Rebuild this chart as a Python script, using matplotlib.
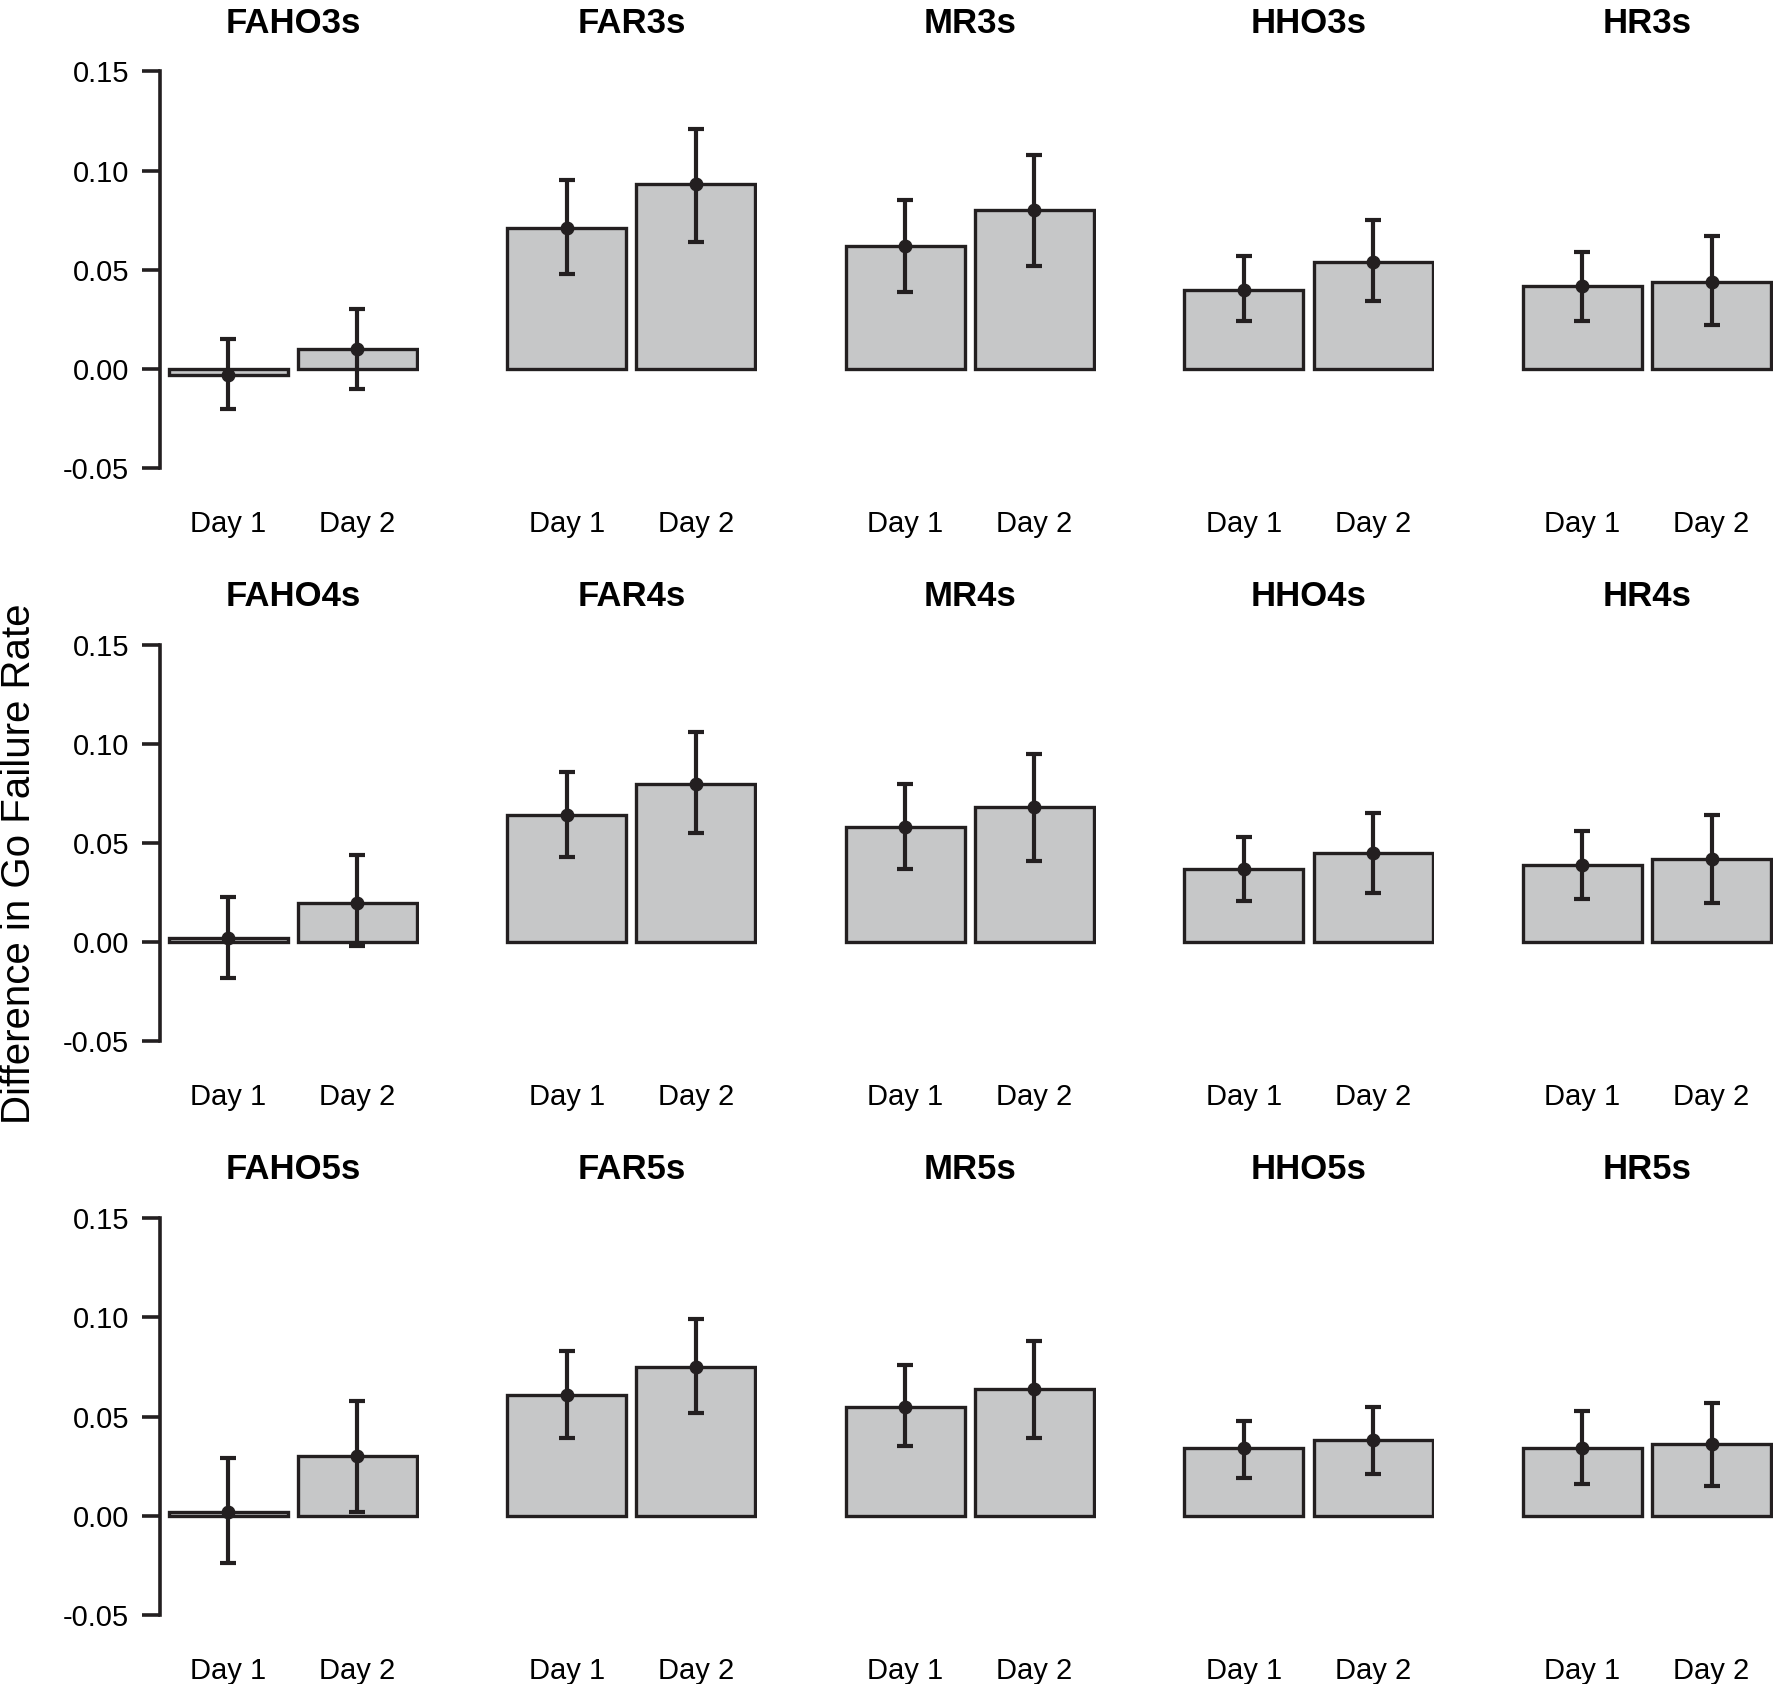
import matplotlib

matplotlib.use("Agg")
import matplotlib.pyplot as plt
import numpy as np

plt.rcParams["font.family"] = ["Liberation Sans", "DejaVu Sans"]

# panel titles, one list per row
row_titles = [
    ["FAHO3s", "FAR3s", "MR3s", "HHO3s", "HR3s"],
    ["FAHO4s", "FAR4s", "MR4s", "HHO4s", "HR4s"],
    ["FAHO5s", "FAR5s", "MR5s", "HHO5s", "HR5s"],
]
days = ["Day 1", "Day 2"]

# means: [row][panel] -> (day1, day2)
means = [
    [(-0.003, 0.010), (0.071, 0.093), (0.062, 0.080), (0.040, 0.054), (0.042, 0.044)],
    [(0.002, 0.020), (0.064, 0.080), (0.058, 0.068), (0.037, 0.045), (0.039, 0.042)],
    [(0.002, 0.030), (0.061, 0.075), (0.055, 0.064), (0.034, 0.038), (0.034, 0.036)],
]
err_low = [
    [(-0.020, -0.010), (0.048, 0.064), (0.039, 0.052), (0.024, 0.034), (0.024, 0.022)],
    [(-0.018, -0.002), (0.043, 0.055), (0.037, 0.041), (0.021, 0.025), (0.022, 0.020)],
    [(-0.024, 0.002), (0.039, 0.052), (0.035, 0.039), (0.019, 0.021), (0.016, 0.015)],
]
err_high = [
    [(0.015, 0.030), (0.095, 0.121), (0.085, 0.108), (0.057, 0.075), (0.059, 0.067)],
    [(0.023, 0.044), (0.086, 0.106), (0.080, 0.095), (0.053, 0.065), (0.056, 0.064)],
    [(0.029, 0.058), (0.083, 0.099), (0.076, 0.088), (0.048, 0.055), (0.053, 0.057)],
]

y_ticks = [-0.05, 0.00, 0.05, 0.10, 0.15]

FILL = "#c6c7c8"
INK = "#231f20"

fig = plt.figure(figsize=(17.77, 16.84), dpi=100)

W, H = 1568.0, 1486.0
x_pos = np.array([0.5, 1.585])
x_lim = (-0.076, 2.1)
title_x = (1.0425 - x_lim[0]) / (x_lim[1] - x_lim[0])
col_left = [141 + c * 298.7 for c in range(5)]
row_bottom = [413, 919, 1425]
ax_w = 228.5
ax_h = 350.0

for r in range(3):
    for c in range(5):
        ax = fig.add_axes([col_left[c] / W, 1 - row_bottom[r] / H, ax_w / W, ax_h / H])
        m = np.array(means[r][c])
        lo = np.array(err_low[r][c])
        hi = np.array(err_high[r][c])
        ax.bar(x_pos, m, width=1.0, color=FILL, edgecolor=INK, linewidth=2.4, zorder=2)
        ax.errorbar(x_pos, m, yerr=[m - lo, hi - m], fmt="o", color=INK, ms=9,
                    elinewidth=3.0, capsize=6, capthick=3.0, zorder=3)
        ax.set_xlim(*x_lim)
        ax.set_ylim(-0.05, 0.15)
        for side in ("top", "right", "bottom"):
            ax.spines[side].set_visible(False)
        ax.set_xticks(x_pos)
        ax.set_xticklabels(days, fontsize=21)
        ax.tick_params(axis="x", length=0, pad=30)
        if c == 0:
            ax.spines["left"].set_linewidth(2.6)
            ax.spines["left"].set_color(INK)
            ax.set_yticks(y_ticks)
            ax.set_yticklabels([f"{v:.2f}" for v in y_ticks], fontsize=21)
            ax.tick_params(axis="y", length=13, width=2.6, color=INK, pad=9)
        else:
            ax.spines["left"].set_visible(False)
            ax.set_yticks([])
        ax.set_title(row_titles[r][c], fontsize=25, fontweight="bold", pad=28, x=title_x)
        ax.patch.set_alpha(0)

fig.text(0.0105, 0.487, "Difference in Go Failure Rate", rotation=90,
         va="center", ha="center", fontsize=29)

fig.savefig("out.png", dpi=100)
